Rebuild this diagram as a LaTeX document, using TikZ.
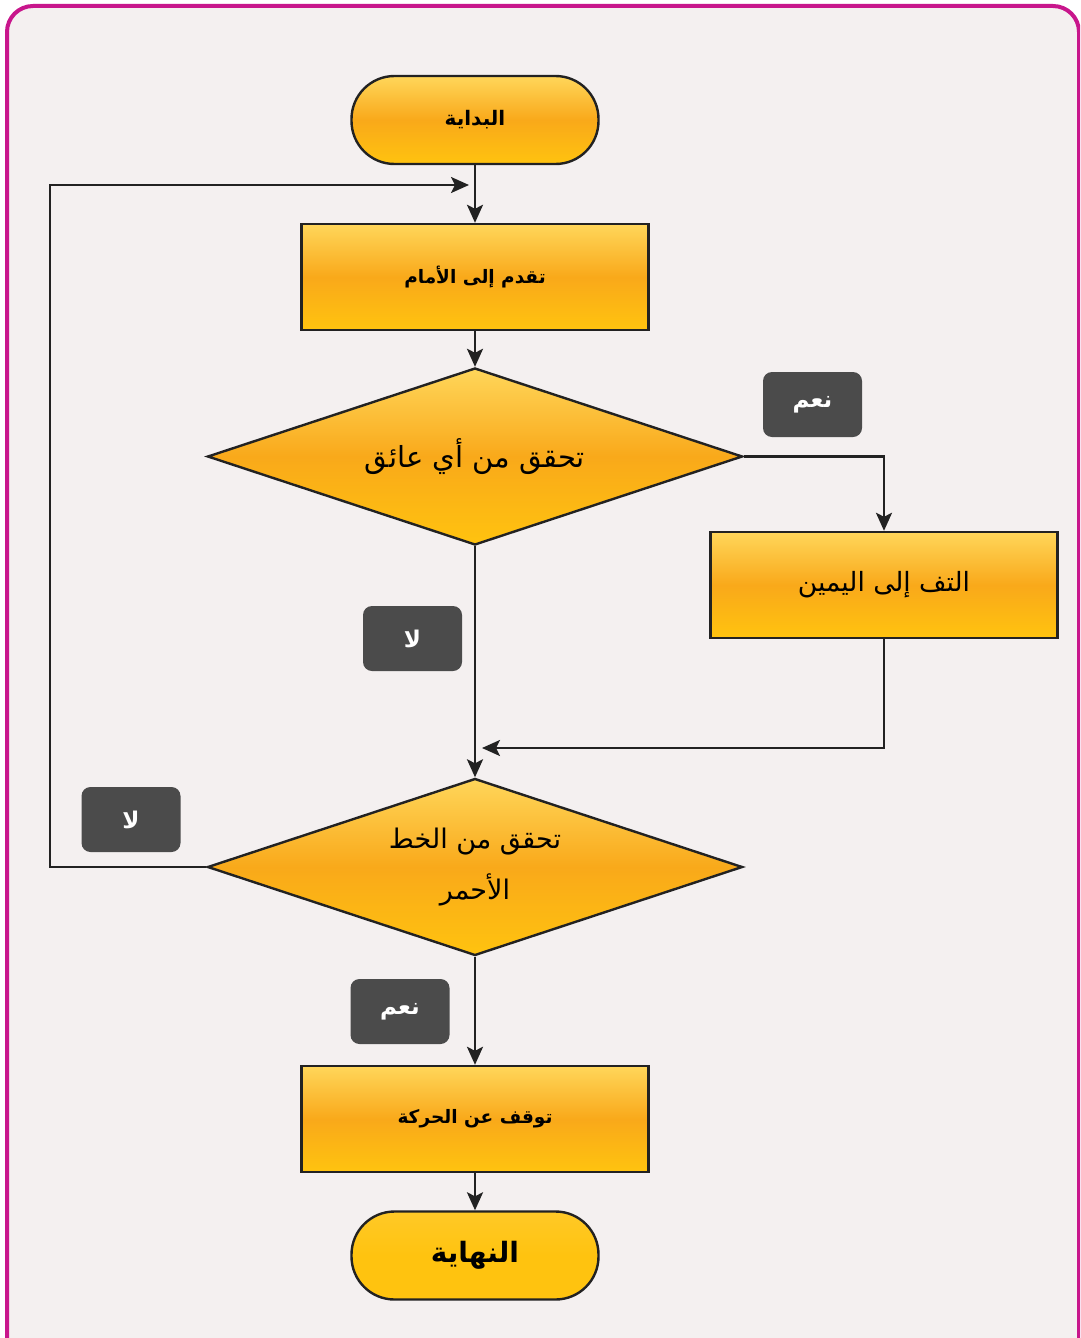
\documentclass[tikz,border=0pt]{standalone}
\usepackage{fontspec}
\usetikzlibrary{shapes.geometric,arrows.meta,shadings}
\newfontfamily\arabicfont[Script=Arabic]{DejaVu Sans}
\TeXXeTstate=1
\definecolor{bgc}{HTML}{F4F0F0}
\definecolor{framec}{HTML}{C8168C}
\definecolor{linec}{HTML}{222222}
\definecolor{ytop}{HTML}{FFD65A}
\definecolor{ymid}{HTML}{F9A91A}
\definecolor{ybot}{HTML}{FFC30F}
\definecolor{labc}{HTML}{4B4B4B}
\tikzset{
  yfill/.style={top color=ytop, bottom color=ybot, middle color=ymid},
  termbox/.style={draw=linec, line width=2.4pt, yfill, rounded corners=43pt,
    minimum width=247pt, minimum height=88pt, inner sep=0pt},
  procbox/.style={draw=linec, line width=2.4pt, yfill,
    minimum width=347pt, minimum height=106pt, inner sep=0pt},
  decbox/.style={draw=linec, line width=2.4pt, yfill, diamond, aspect=3.02,
    minimum width=535pt, minimum height=177pt, inner sep=0pt},
  labbox/.style={fill=labc, rounded corners=9pt, minimum width=99pt,
    minimum height=65pt, inner sep=0pt, text=white,
    font=\fontsize{23}{26}\selectfont\arabicfont\bfseries},
  conn/.style={draw=linec, line width=2.5pt},
  arr/.style={conn, -{Stealth[length=18pt,width=16pt,inset=4pt]}},
}
\begin{document}
\begin{tikzpicture}[x=1pt,y=-1pt]
\useasboundingbox (0,0) rectangle (1080,1338);
\begin{scope}
\clip (0,0) rectangle (1080,1338);
\fill[white] (0,0) rectangle (1080,1338);
\draw[framec, line width=4pt, fill=bgc, rounded corners=26pt] (7,6) rectangle (1079,1420);
\end{scope}

% nodes
\node[termbox, font=\fontsize{20}{24}\selectfont\arabicfont\bfseries] (start) at (475,120) {\beginR البداية\endR};
\node[procbox, font=\fontsize{18.5}{24}\selectfont\arabicfont\bfseries] (fwd) at (475,277) {\beginR تقدم إلى الأمام\endR};
\node[decbox, font=\fontsize{29}{32}\selectfont\arabicfont] (obs) at (475,456.5) {\beginR تحقق من أي عائق\endR};
\node[procbox, font=\fontsize{26.5}{30}\selectfont\arabicfont] (turn) at (884,585) {\beginR التف إلى اليمين\endR};
\node[decbox, font=\fontsize{27}{32}\selectfont\arabicfont, align=center] (red) at (475,867) {\beginR تحقق من الخط\endR\\[18pt]\beginR الأحمر\endR};
\node[procbox, font=\fontsize{18.5}{24}\selectfont\arabicfont\bfseries] (stop) at (475,1119) {\beginR توقف عن الحركة\endR};
\node[termbox, top color=ybot!90!white, bottom color=ybot, middle color=ybot, font=\fontsize{28}{32}\selectfont\arabicfont\bfseries] (end) at (475,1255.5) {\beginR النهاية\endR};

% labels
\node[labbox] (yes1) at (812.5,404.5) {\beginR نعم\endR};
\node[labbox] (no1) at (412.5,638.5) {\beginR لا\endR};
\node[labbox] (no2) at (131,819.5) {\beginR لا\endR};
\node[labbox] (yes2) at (400,1011.5) {\beginR نعم\endR};

% helper coordinates
\coordinate (merge) at (482,748);
\coordinate (loopin) at (469,185);

% connectors
\draw[arr] (start) -- (fwd);
\draw[arr] (fwd) -- (obs);
\draw[arr] (obs.east) -| (turn.north);
\draw[arr] (obs.south) -- (red.north);
\draw[arr] (turn.south) |- (merge);
\draw[arr] (red.west) -- (50,867) -- (50,185) -- (loopin);
\draw[arr] (red.south) -- (stop.north);
\draw[arr] (stop) -- (end);
\end{tikzpicture}
\end{document}
